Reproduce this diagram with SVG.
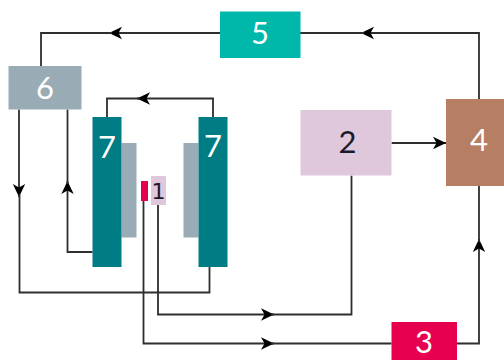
<svg xmlns="http://www.w3.org/2000/svg" width="504" height="360" viewBox="0 0 504 360">
<style>
.w{fill:#fff}.d{fill:#1a1a2a}
text{font-family:"Lato","Open Sans",sans-serif;font-weight:400;font-size:31px;text-anchor:middle}
.c path{fill:none;stroke:#2e2e2e;stroke-width:1.8}
</style>
<defs>
<marker id="a" markerUnits="userSpaceOnUse" markerWidth="16" markerHeight="14" refX="14" refY="7" orient="auto" overflow="visible">
<path d="M14 7 L1 0.8 L4.5 7 L1 13.2 Z" fill="#000"/>
</marker>
</defs>
<rect width="504" height="360" fill="#fff"/>
<g class="c" id="connectors">
<path d="M220 33H109" marker-end="url(#a)"/><path d="M112 33H41V66"/>
<path d="M479 99V33H361" marker-end="url(#a)"/><path d="M364 33H300"/>
<path d="M213 117V98.500H137" marker-end="url(#a)"/><path d="M140 98.500H107V117"/>
<path d="M19 109.500V197" marker-end="url(#a)"/><path d="M19.500 194V292.500H209.500V267"/>
<path d="M92.500 252H67.500V181" marker-end="url(#a)"/><path d="M67.500 184V109.500"/>
<path d="M143.500 201V343.500H274" marker-end="url(#a)"/><path d="M271 343.500H391.500"/>
<path d="M158 205V314.500H274" marker-end="url(#a)"/><path d="M271 314.500H351.500V175.500"/>
<path d="M457 343.500H479V239" marker-end="url(#a)"/><path d="M479 242V186"/>
<path d="M391.500 143H446" marker-end="url(#a)"/>
</g>
<g id="node-5"><rect x="220" y="11.500" width="80.500" height="46.500" fill="#00B8A9"/><text class="w" x="260" y="44">5</text></g>
<g id="node-6"><rect x="8.500" y="66" width="73" height="43.500" fill="#99ABB5"/><text class="w" x="45" y="99">6</text></g>
<g id="node-gray-left"><rect x="121.500" y="143" width="15" height="94.500" fill="#99ABB5"/></g>
<g id="node-gray-right"><rect x="183.500" y="143" width="15" height="94.500" fill="#99ABB5"/></g>
<g id="node-7-left"><rect x="92.500" y="117" width="29" height="150" fill="#007C85"/><text class="w" x="107" y="158">7</text></g>
<g id="node-7-right"><rect x="198.500" y="117" width="29" height="150" fill="#007C85"/><text class="w" x="213" y="157">7</text></g>
<g id="node-red"><rect x="141" y="181" width="7" height="20" fill="#E6004F"/></g>
<g id="node-1"><rect x="151" y="176" width="15" height="29" fill="#DFC8DB"/><text class="d" x="158.500" y="199" style="font-family:'DejaVu Sans',sans-serif;font-size:22px">1</text></g>
<g id="node-2"><rect x="300.500" y="110" width="91" height="65.500" fill="#DFC8DB"/><text class="d" x="347.500" y="153">2</text></g>
<g id="node-4"><rect x="446" y="99" width="58" height="87" fill="#B67F64"/><text class="w" x="479" y="151">4</text></g>
<g id="node-3"><rect x="391.500" y="322" width="65.500" height="38" fill="#E6004F"/><text class="w" x="424" y="353">3</text></g>
</svg>
